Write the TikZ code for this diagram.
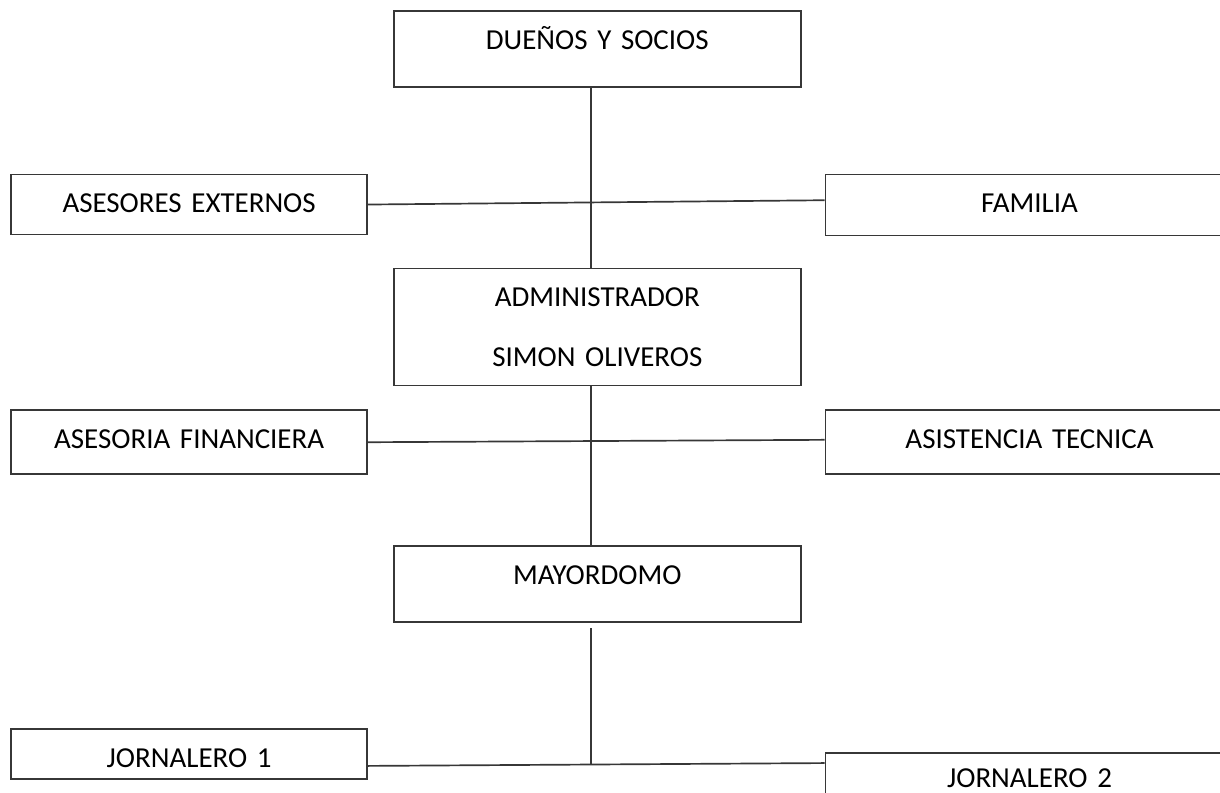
\documentclass[tikz,border=0pt]{standalone}
\usepackage{fontspec}
\setmainfont{Carlito}
\usepackage{tikz}
\usetikzlibrary{positioning,calc}
\usepackage{xcolor}
\definecolor{linegray}{RGB}{55,55,55}

\begin{document}
\begin{tikzpicture}[node distance=10mm and 6mm]
\tikzstyle{orgbox}=[draw=linegray,line width=1.2pt,inner sep=0pt,align=center,text height=9.6mm,
  font=\fontsize{20.6pt}{24.7pt}\selectfont]
\tikzstyle{midbox}=[orgbox,text width=101.75mm]
\tikzstyle{leftbox}=[orgbox,text width=89mm]
\tikzstyle{rightbox}=[orgbox,text width=102mm]
\tikzstyle{link}=[draw=linegray,line width=1.2pt]

\useasboundingbox (0,0) rectangle (305mm,-198.25mm);
\clip (0,0) rectangle (305mm,-198.25mm);

\node[midbox,text depth=9.4mm,anchor=north west] (own) at (98.25mm,-2.5mm) {DUEÑOS Y SOCIOS};
\node[midbox,text depth=19.65mm,below=45mm of own] (adm) {ADMINISTRADOR\\[18pt]SIMON OLIVEROS};
\node[midbox,text depth=9.4mm,below=39.75mm of adm] (may) {MAYORDOMO};

\node[leftbox,text depth=5.4mm,below left=21.5mm and 6.25mm of own] (ext) {ASESORES EXTERNOS};
\node[rightbox,text depth=5.65mm,below right=21.5mm and 5.75mm of own] (fam) {FAMILIA};
\node[leftbox,text depth=6.4mm,below left=5.75mm and 6.25mm of adm] (fin) {ASESORIA FINANCIERA};
\node[rightbox,text depth=6.4mm,below right=5.75mm and 5.75mm of adm] (tec) {ASISTENCIA TECNICA};
\node[leftbox,text depth=2.9mm,below left=26.25mm and 6.25mm of may] (jor1) {JORNALERO 1};
\node[rightbox,text height=8.6mm,text depth=2.4mm,below right=32.25mm and 5.75mm of may] (jor2) {JORNALERO 2};

\coordinate (mayjoin) at ([xshift=-1.625mm,yshift=-35.25mm]may.south);

\draw[link] ([xshift=-1.625mm]own.south)--([xshift=-1.625mm]adm.north);
\draw[link] (ext.east)--([yshift=1.2mm]fam.west);
\draw[link] ([xshift=-1.625mm]adm.south)--([xshift=-1.625mm]may.north);
\draw[link] (fin.east)--([yshift=.6mm]tec.west);
\draw[link] ([xshift=-1.625mm,yshift=-1.25mm]may.south)--(mayjoin);
\draw[link] ([yshift=-3mm]jor1.east)--([yshift=-2.75mm]jor2.north west);
\end{tikzpicture}
\end{document}
